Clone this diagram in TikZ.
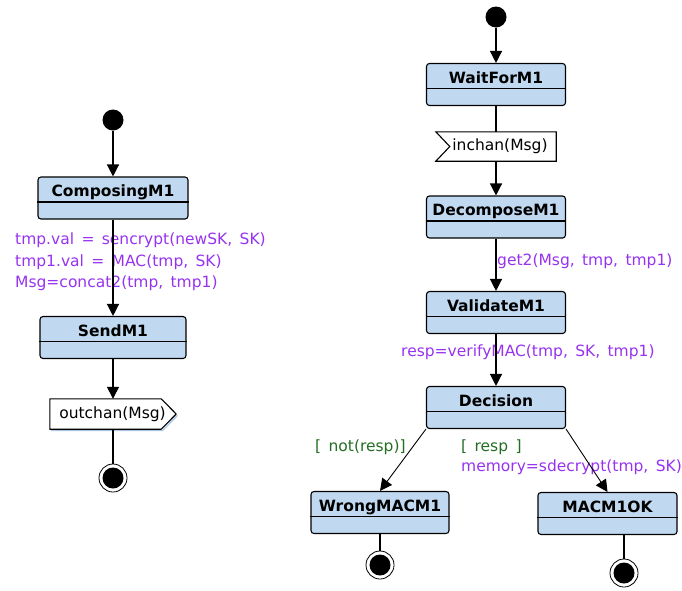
\documentclass[tikz,border=0pt]{standalone}
\usepackage{fontspec}
\setmainfont{DejaVu Sans}
\newfontfamily\lblfont[WordSpace=1.5]{DejaVu Sans}
\usetikzlibrary{arrows.meta}
\definecolor{statefill}{RGB}{193,217,240}
\definecolor{actpurple}{RGB}{150,50,240}
\definecolor{guardgreen}{RGB}{35,110,35}
\definecolor{sigshadow}{RGB}{170,200,230}
\begin{document}
\begin{tikzpicture}[x=1pt, y=-1pt,
  state/.style={draw, line width=1.1pt, fill=statefill, rounded corners=3pt,
    minimum height=42pt, text height=6.5pt, text depth=9.5pt, inner sep=0pt,
    font=\fontsize{15.5}{16}\selectfont\bfseries},
  initial/.style={circle, fill=black, minimum size=21pt, inner sep=0pt},
  final/.style={circle, draw, line width=0.8pt, fill=white, minimum size=28pt, inner sep=0pt,
    path picture={\fill[black] (path picture bounding box.center) circle (10.5pt);}},
  sigbox/.style={rectangle, inner sep=0pt, font=\fontsize{15.5}{16}\selectfont},
  sigline/.style={draw, line width=1.1pt, fill=white, line join=miter},
  sigshade/.style={draw=sigshadow, line width=1.3pt},
  lbl/.style={text=actpurple, font=\lblfont\fontsize{15.5}{21.5}\selectfont,
    inner sep=0pt, anchor=west, align=left},
  guard/.style={text=guardgreen, font=\lblfont\fontsize{15.5}{21.5}\selectfont,
    inner sep=0pt, anchor=west},
  conn/.style={line width=1.3pt, -{Triangle[width=12pt,length=12pt]}},
  plain/.style={line width=1.3pt},
  divider/.style={line width=1.1pt}]
\useasboundingbox (0,0) rectangle (682,590);

% sender automaton
\node[initial] (s1) at (113,120) {};
\node[state, minimum width=150pt] (comp) at (113,198) {ComposingM1};
\node[state, minimum width=146pt] (send) at (113,337.5) {SendM1};
\node[sigbox, minimum width=126pt, minimum height=30pt] (out) at (113,414) {};
\node[final] (e1) at (113,478) {};
\node[lbl] (ca) at (15,262) {tmp.val = sencrypt(newSK, SK)\\tmp1.val = MAC(tmp, SK)\\Msg=concat2(tmp, tmp1)};

% send-signal pentagon
\draw[sigshade] ([shift={(1.3pt,-1.3pt)}]out.south west) -- ([shift={(-13.7pt,-1.3pt)}]out.south east)
  -- ([shift={(1.3pt,-1.3pt)}]out.east);
\draw[sigline] (out.north west) -- ([xshift=-15pt]out.north east) -- (out.east)
  -- ([xshift=-15pt]out.south east) -- (out.south west) -- cycle;
\node[sigbox] (outtxt) at (112.5,414) {outchan(Msg)};

% receiver automaton
\node[initial] (s2) at (496,17) {};
\node[state, minimum width=139pt] (wait) at (496,84.5) {WaitForM1};
\node[sigbox, minimum width=120pt, minimum height=29pt] (in) at (496,146.5) {};
\draw[sigline] (in.north west) -- (in.north east) -- (in.south east) -- (in.south west)
  -- ([xshift=14pt]in.west) -- cycle;
\node[sigbox] (intxt) at (500,146.5) {inchan(Msg)};
\node[state, minimum width=139pt] (dec) at (496,217) {DecomposeM1};
\node[lbl] (g2) at (497,261) {get2(Msg, tmp, tmp1)};
\node[state, minimum width=139pt] (val) at (496,312.5) {ValidateM1};
\node[lbl] (vm) at (401,352) {resp=verifyMAC(tmp, SK, tmp1)};
\node[state, minimum width=139pt] (dcs) at (496,407.5) {Decision};
\node[guard] (gn) at (315,447) {[ not(resp)]};
\node[guard] (gr) at (461,447) {[ resp ]};
\node[lbl] (mem) at (461,467) {memory=sdecrypt(tmp, SK)};
\node[state, minimum width=138pt] (wr) at (380,512.5) {WrongMACM1};
\node[state, minimum width=139pt] (ok) at (607.5,513.5) {MACM1OK};
\node[final] (e2) at (380,565) {};
\node[final] (e3) at (624,573) {};

% compartment lines under the state names
\foreach \n in {comp,send,wait,dec,val,dcs,wr,ok}
  \draw[divider] ([yshift=-4pt]\n.west) -- ([yshift=-4pt]\n.east);

% transitions
\draw[conn] (s1) -- (comp);
\draw[conn] (comp) -- (send);
\draw[conn] (send) -- (out);
\draw[plain] (out) -- (e1);
\draw[conn] (s2) -- (wait);
\draw[plain] (wait) -- (in);
\draw[conn] (in) -- (dec);
\draw[conn] (dec) -- (val);
\draw[conn] (val) -- (dcs);
\draw[conn, line width=0.9pt] (dcs.south west) -- (wr.north);
\draw[conn, line width=0.9pt] (dcs.south east) -- (ok.north);
\draw[plain] (wr) -- (e2);
\draw[plain] (ok.south -| e3) -- (e3);
\end{tikzpicture}
\end{document}
